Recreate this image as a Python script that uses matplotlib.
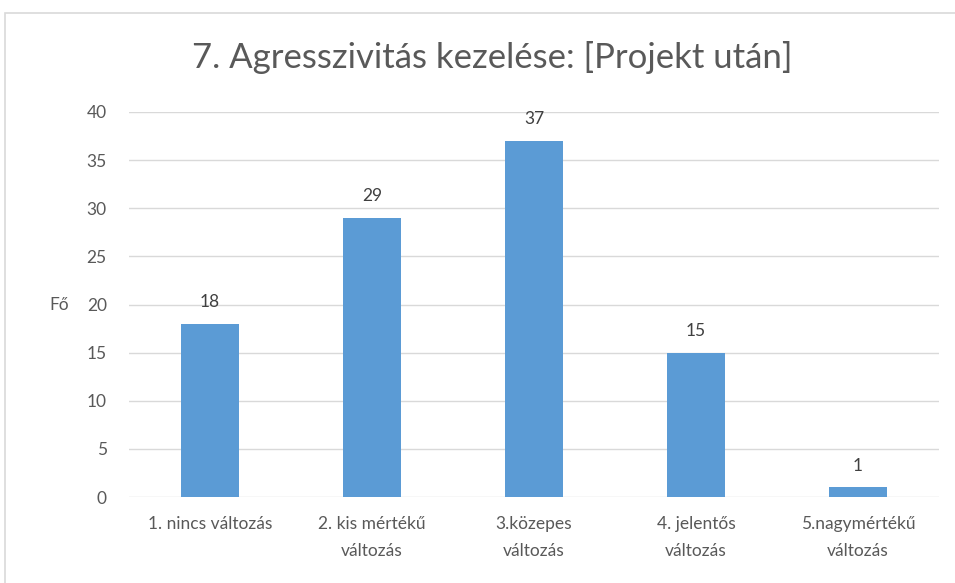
import matplotlib
matplotlib.use("Agg")
import matplotlib.pyplot as plt
from matplotlib.patches import Rectangle

categories = ["1. nincs változás", "2. kis mértékű\nváltozás", "3.közepes\nváltozás",
              "4. jelentős\nváltozás", "5.nagymértékű\nváltozás"]
values = [18, 29, 37, 15, 1]
yticks = [0, 5, 10, 15, 20, 25, 30, 35, 40]

plt.rcParams["font.family"] = ["Lato", "DejaVu Sans"]
text_color = "#595959"

fig = plt.figure(figsize=(9.55, 5.83), dpi=100)
# chart frame (cut off at right and bottom like the screenshot)
fig.patches.append(Rectangle((5 / 955, -0.1), 1.1, (583 - 13) / 583 + 0.1,
                             transform=fig.transFigure, fill=False,
                             edgecolor="#d9d9d9", linewidth=1.2))

ax = fig.add_axes([129 / 955, 1 - 497 / 583, 810 / 955, (497 - 112) / 583])
x = range(len(categories))
bars = ax.bar(x, values, width=0.36, color="#5b9bd5", zorder=3)
for b, v in zip(bars, values):
    ax.text(b.get_x() + b.get_width() / 2, v + 1.4, str(v), ha="center", va="bottom",
            fontsize=12.5, color="#404040")

ax.set_xlim(-0.5, len(categories) - 0.5)
ax.set_ylim(0, 40)
ax.set_yticks(yticks)
ax.set_xticks(list(x))
ax.set_xticklabels(categories, fontsize=12.5, color=text_color, linespacing=1.8)
ax.tick_params(axis="y", labelsize=12.5, labelcolor=text_color, length=0, pad=16)
ax.tick_params(axis="x", length=0, pad=14)
ax.grid(axis="y", color="#d9d9d9", linewidth=1, zorder=0)
for s in ax.spines.values():
    s.set_visible(False)

ax.set_ylabel("Fő", fontsize=12.5, color=text_color, rotation=0, labelpad=20, va="center")
fig.text(492 / 955, 1 - 58 / 583, "7. Agresszivitás kezelése: [Projekt után]",
         ha="center", va="center", fontsize=25, color=text_color)

fig.savefig("out.png", dpi=100)
